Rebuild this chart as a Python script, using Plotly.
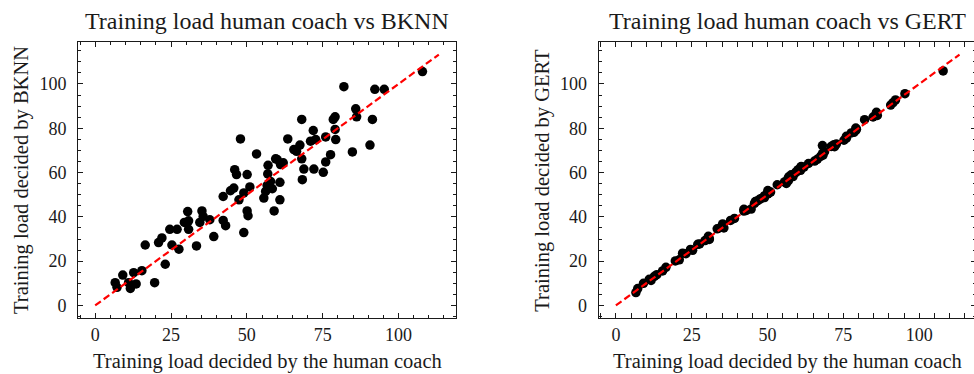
import plotly.graph_objects as go

# Training load (human coach) and the loads proposed by the two models
human = [6.6, 7.2, 9.1, 11.0, 11.6, 12.7, 13.5, 15.4, 16.5, 19.6,
         20.9, 22.0, 23.1, 24.6, 25.3, 27.0, 27.6, 29.4, 30.5, 30.8,
         30.8, 33.4, 34.5, 35.2, 35.6, 37.8, 39.1, 42.2, 42.2, 43.0,
         44.6, 45.7, 46.0, 46.6, 47.4, 47.9, 49.0, 49.0, 50.1, 50.1,
         50.4, 51.0, 53.2, 55.6, 56.2, 56.7, 56.9, 57.0, 57.8, 58.4,
         59.0, 59.5, 60.0, 60.9, 60.9, 61.1, 62.0, 63.5, 65.5, 66.4,
         67.5, 68.1, 68.1, 68.3, 68.8, 71.0, 71.9, 72.1, 72.7, 75.2,
         76.0, 76.0, 77.6, 78.5, 79.1, 79.1, 79.3, 82.0, 84.8, 85.9,
         86.2, 90.6, 91.4, 92.2, 95.3, 107.9]

bknn = [10.3, 8.2, 13.7, 10.3, 7.7, 14.8, 9.7, 15.7, 27.3, 10.3,
        28.4, 30.5, 18.6, 34.4, 27.3, 34.4, 25.4, 37.5, 42.4, 34.4,
        38.2, 26.9, 37.5, 42.7, 40.2, 38.7, 31.1, 49.2, 38.4, 36.0,
        51.8, 53.0, 61.3, 59.1, 47.7, 75.2, 50.8, 32.9, 59.1, 42.7,
        40.5, 53.5, 68.4, 48.5, 51.5, 54.2, 59.4, 63.3, 56.0, 52.7,
        42.7, 66.2, 65.9, 47.7, 55.6, 63.6, 64.4, 75.2, 70.4, 69.6,
        72.4, 84.0, 66.2, 56.8, 61.6, 74.2, 79.0, 61.6, 74.9, 60.1,
        76.1, 64.8, 68.1, 84.0, 85.2, 79.5, 74.9, 98.8, 69.3, 88.8,
        85.2, 72.4, 84.0, 97.6, 97.6, 105.6]

gert = [5.8, 7.6, 10.0, 11.8, 11.3, 13.1, 13.9, 15.6, 17.2, 20.1,
        20.6, 23.6, 23.4, 25.3, 24.9, 27.6, 27.8, 29.3, 31.2, 30.2,
        29.8, 34.6, 35.2, 36.8, 35.0, 38.4, 39.3, 43.4, 42.6, 42.9,
        43.5, 46.1, 46.9, 47.2, 47.9, 48.3, 49.6, 48.7, 51.9, 50.4,
        50.8, 51.2, 54.5, 55.8, 55.1, 57.2, 56.4, 58.1, 59.0, 58.2,
        59.7, 60.3, 61.2, 62.4, 61.0, 62.7, 62.5, 64.1, 65.2, 66.0,
        67.3, 72.2, 68.6, 67.9, 69.4, 71.8, 72.6, 71.7, 72.9, 74.6,
        76.4, 75.5, 77.9, 78.2, 80.1, 79.0, 79.6, 83.9, 85.1, 87.2,
        85.8, 90.5, 91.6, 92.8, 95.6, 105.9]

panels = [
    ("Training load human coach vs BKNN", "Training load decided by BKNN", bknn),
    ("Training load human coach vs GERT", "Training load decided by GERT", gert),
]
x_title = "Training load decided by the human coach"
tick_vals = [0, 25, 50, 75, 100]
y_tick_vals = [0, 20, 40, 60, 80, 100]

W, H = 974, 374
FONT = "Liberation Serif"
INK = "#1a1a1a"

# identity reference line spans 0 .. 1.05 * largest value
lim = 1.05 * max(max(human), max(bknn), max(gert))
pad = 0.05 * lim
rng = [-pad, lim + pad]

# plot-area placement (pixels)
top_px, bot_px = 42, 318
lefts = [78, 598.7]
px_per_unit = (456 - 78) / (rng[1] - rng[0])


def fx(px):
    return px / W


def fy(py):
    return 1 - py / H


fig = go.Figure()

axis_common = dict(
    showgrid=False, zeroline=False, showline=True, linecolor=INK, linewidth=1,
    ticks="inside", ticklen=5, tickwidth=1, tickcolor=INK,
    mirror="allticks",
    tickfont=dict(family=FONT, size=18, color=INK),
    minor=dict(dtick=5, ticks="inside", ticklen=3, tickwidth=1, tickcolor=INK),
)

annotations = []
for i, (title, ylab, yvals) in enumerate(panels):
    n = "" if i == 0 else str(i + 1)
    left = lefts[i]
    right = left + (rng[1] - rng[0]) * px_per_unit
    xr = list(rng)
    if right > W:
        # the right panel runs off the page edge
        xr = [rng[0], rng[0] + (W - left) / px_per_unit]
        right = W
    # points first, dashed identity line drawn on top of them
    fig.add_trace(go.Scatter(
        x=human, y=yvals, mode="markers",
        marker=dict(color="black", size=9.5, line=dict(width=0)),
        xaxis="x" + n, yaxis="y" + n, showlegend=False))
    fig.add_trace(go.Scatter(
        x=[0, lim], y=[0, lim], mode="lines",
        line=dict(color="red", width=2.2, dash="7px,3.5px"),
        xaxis="x" + n, yaxis="y" + n, showlegend=False, hoverinfo="skip"))

    xa = dict(axis_common, domain=[fx(left), fx(right)], range=xr,
              anchor="y" + n, tickvals=tick_vals)
    ya = dict(axis_common, domain=[fy(bot_px), fy(top_px)], range=rng,
              anchor="x" + n, tickvals=y_tick_vals, ticklabelstandoff=7)
    if right >= W:
        ya["mirror"] = False
    fig.layout["xaxis" + n] = xa
    fig.layout["yaxis" + n] = ya

    cx = (left + left + (rng[1] - rng[0]) * px_per_unit) / 2
    annotations.append(dict(text=title, x=fx(cx), y=fy(21), xref="paper", yref="paper",
                            xanchor="center", yanchor="middle", showarrow=False,
                            font=dict(family=FONT, size=24, color=INK)))
    annotations.append(dict(text=x_title, x=fx(cx), y=fy(361), xref="paper", yref="paper",
                            xanchor="center", yanchor="middle", showarrow=False,
                            font=dict(family=FONT, size=20.5, color=INK)))
    annotations.append(dict(text=ylab, x=fx(left - 56), y=fy((top_px + bot_px) / 2),
                            xref="paper", yref="paper", textangle=-90,
                            xanchor="center", yanchor="middle", showarrow=False,
                            font=dict(family=FONT, size=20.5, color=INK)))

# tick marks along the clipped right edge of the second panel
fig.layout["yaxis3"] = dict(
    overlaying="y2", side="right", anchor="x2", range=rng, showgrid=False,
    zeroline=False, showline=False, showticklabels=False,
    ticks="inside", ticklen=3, tickwidth=1, tickcolor=INK, tickvals=y_tick_vals,
    minor=dict(dtick=5, ticks="inside", ticklen=1, tickwidth=1, tickcolor=INK),
)
fig.add_trace(go.Scatter(x=[None], y=[None], xaxis="x2", yaxis="y3",
                         showlegend=False, hoverinfo="skip"))

fig.update_layout(
    width=W, height=H, margin=dict(l=0, r=0, t=0, b=0),
    paper_bgcolor="white", plot_bgcolor="white",
    annotations=annotations,
)

fig.write_html("out.html")
